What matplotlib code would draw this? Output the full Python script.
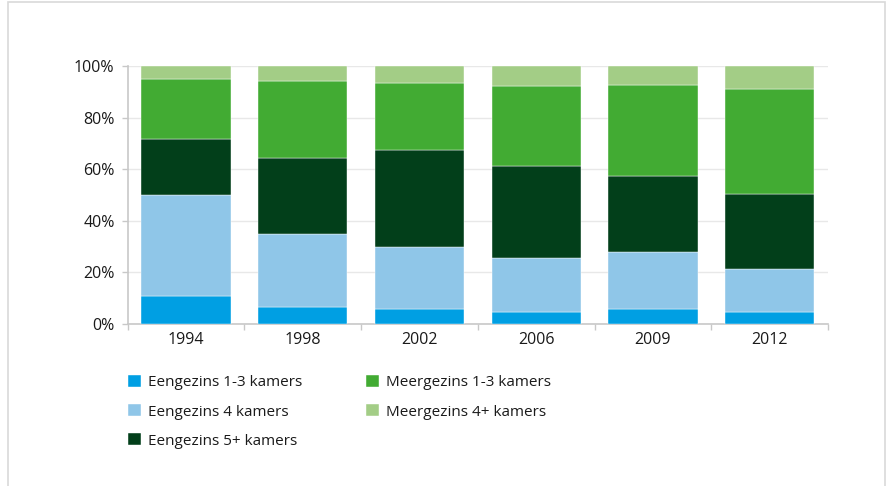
import matplotlib
matplotlib.use("Agg")
import matplotlib.pyplot as plt
from matplotlib.patches import Rectangle
import numpy as np

plt.rcParams['font.family'] = ['Open Sans', 'DejaVu Sans']

years = ['1994', '1998', '2002', '2006', '2009', '2012']
series_names = ['Eengezins 1-3 kamers', 'Eengezins 4 kamers', 'Eengezins 5+ kamers',
                'Meergezins 1-3 kamers', 'Meergezins 4+ kamers']
eengezins_1_3 = [10.9, 6.7, 5.7, 4.7, 5.9, 4.7]
eengezins_4 = [39.1, 28.3, 24.3, 20.9, 21.9, 16.6]
eengezins_5 = [21.6, 29.2, 37.4, 35.8, 29.7, 29.2]
meergezins_1_3 = [23.4, 30.0, 26.1, 31.0, 35.1, 40.7]
meergezins_4 = [5.0, 5.8, 6.5, 7.6, 7.4, 8.8]
colors = ['#009fe3', '#8fc6e8', '#023f1a', '#42ab33', '#a3cd86']

data = [eengezins_1_3, eengezins_4, eengezins_5, meergezins_1_3, meergezins_4]

fig = plt.figure(figsize=(8.87, 4.86), dpi=100)
W, H = 887, 486
ax = fig.add_axes([127.7 / W, (H - 324) / H, (828 - 127.7) / W, (324 - 66) / H])

# figure border
fig.patches.append(Rectangle((8 / W, -0.01), (885 - 8) / W, (H - 2) / H + 0.01,
                             transform=fig.transFigure, fill=False,
                             edgecolor='#d9d9d9', linewidth=1.2, zorder=0))

x = np.arange(len(years))
bottom = np.zeros(len(years))
handles = []
for vals, c, name in zip(data, colors, series_names):
    b = ax.bar(x, vals, bottom=bottom, width=0.765, color=c, label=name,
               edgecolor='white', linewidth=0.3, zorder=3)
    handles.append(b)
    bottom += np.array(vals)

ax.set_xlim(-0.5, len(years) - 0.5)
ax.set_ylim(0, 100)
ax.set_yticks(np.arange(0, 101, 20))
ax.set_yticklabels([f'{v}%' for v in range(0, 101, 20)])
ax.set_xticks(x)
ax.set_xticklabels(years)
ax.set_xticks(np.arange(-0.5, len(years), 1), minor=True)
ax.tick_params(axis='x', which='major', length=0, pad=6, labelsize=11.5, colors='#1a1a1a')
ax.tick_params(axis='x', which='minor', length=4, width=1, color='#c8c8c8')
ax.tick_params(axis='y', length=4, width=1, color='#c8c8c8', pad=5.5, labelsize=11.5,
               labelcolor='#1a1a1a')
ax.grid(axis='y', color='#e8e8e8', linewidth=1, zorder=0)
ax.set_axisbelow(True)
for s in ['top', 'right']:
    ax.spines[s].set_visible(False)
for s in ['left', 'bottom']:
    ax.spines[s].set_color('#c8c8c8')
    ax.spines[s].set_linewidth(1.2)

leg = fig.legend(handles=handles, labels=series_names, ncol=2,
                 loc='upper left', bbox_to_anchor=(128 / W, (H - 375) / H),
                 frameon=False, fontsize=11, handlelength=0.85, handleheight=0.85,
                 handletextpad=0.45, columnspacing=4.2, labelspacing=0.9,
                 borderpad=0, borderaxespad=0)
for t in leg.get_texts():
    t.set_color('#1a1a1a')

fig.savefig('out.png', dpi=100)
